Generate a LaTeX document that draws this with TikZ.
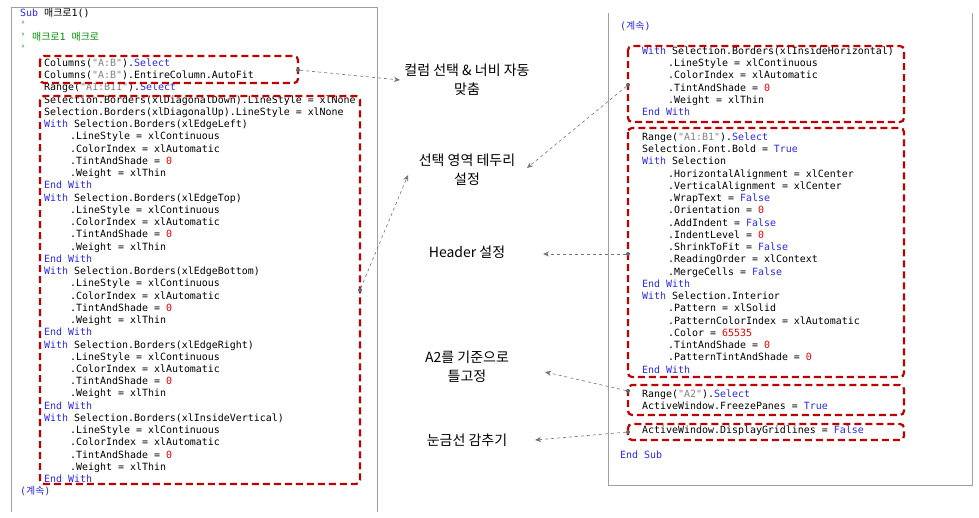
\documentclass[tikz,border=0pt]{standalone}
\usepackage{fontspec}
\setmonofont{DejaVu Sans Mono}
\newfontfamily\kr{Noto Sans CJK KR}
\usetikzlibrary{arrows.meta}
\definecolor{kwc}{RGB}{40,40,240}
\definecolor{stc}{RGB}{130,130,130}
\definecolor{nmc}{RGB}{240,0,0}
\definecolor{cmc}{RGB}{0,140,0}
\definecolor{boxc}{RGB}{192,0,0}
\newcommand{\kw}[1]{\textcolor{kwc}{#1}}
\newcommand{\sr}[1]{\textcolor{stc}{#1}}
\newcommand{\nm}[1]{\textcolor{nmc}{#1}}
\newcounter{lnc}
\newcommand{\CL}[3]{\stepcounter{lnc}\node[codeln] (l\thelnc) at (#1,#2) {#3};}
\begin{document}
\begin{tikzpicture}[x=1pt,y=-1pt,
  codeln/.style={anchor=west,inner sep=0pt,text height=7pt,text depth=2pt,font=\ttfamily\fontsize{9.95}{10}\selectfont},
  frame/.style={draw=black!38,line width=0.8pt},
  redbox/.style={draw=boxc,line width=2.2pt,dash pattern=on 7pt off 4pt,rounded corners=4pt},
  lbl/.style={font=\kr\fontsize{14}{19}\selectfont,align=center},
  conn/.style={draw=black!55,dashed,line width=0.6pt,-{Stealth[length=6pt,width=5pt]}},
  dotc/.style={circle,fill=black!60,inner sep=0pt,minimum size=4pt}]
\useasboundingbox (0,0) rectangle (979,517);
\fill[white] (0,0) rectangle (979,517);
% frames
\draw[frame] (11,7) -- (377,7) -- (377,512);
\draw[frame] (11,7) -- (11,512);
\draw[frame] (608,13) -- (608,485) -- (972,485) -- (972,13);
% left code
\def\a{20}\def\b{44}\def\c{70}
\CL{\a}{14}{\kw{Sub} {\kr 매크로}1()}
\CL{\a}{26}{\textcolor{cmc}{'}}
\CL{\a}{38}{\textcolor{cmc}{' {\kr 매크로}1 {\kr 매크로}}}
\CL{\a}{50}{\textcolor{cmc}{'}}
\def\y{64}
\newcommand{\nl}[2]{\CL{#1}{\y}{#2}\pgfmathsetmacro\y{\y+12.24}\global\let\y\y}
\nl{\b}{Columns(\sr{"A:B"}).\kw{Select}}
\nl{\b}{Columns(\sr{"A:B"}).EntireColumn.AutoFit}
\nl{\b}{Range(\sr{"A1:B11"}).\kw{Select}}
\nl{\b}{Selection.Borders(xlDiagonalDown).LineStyle = xlNone}
\nl{\b}{Selection.Borders(xlDiagonalUp).LineStyle = xlNone}
\foreach \e in {xlEdgeLeft,xlEdgeTop,xlEdgeBottom,xlEdgeRight,xlInsideVertical}{%
\nl{\b}{\kw{With} Selection.Borders(\e)}
\nl{\c}{.LineStyle = xlContinuous}
\nl{\c}{.ColorIndex = xlAutomatic}
\nl{\c}{.TintAndShade = \nm{0}}
\nl{\c}{.Weight = xlThin}
\nl{\b}{\kw{End With}}
}
\CL{\a}{492}{\kw{({\kr 계속})}}
% right code
\def\a{620}\def\b{642}\def\c{668}
\CL{\a}{27}{\kw{({\kr 계속})}}
\def\y{52}
\nl{\b}{\kw{With} Selection.Borders(xlInsideHorizontal)}
\nl{\c}{.LineStyle = xlContinuous}
\nl{\c}{.ColorIndex = xlAutomatic}
\nl{\c}{.TintAndShade = \nm{0}}
\nl{\c}{.Weight = xlThin}
\nl{\b}{\kw{End With}}
\def\y{138}
\nl{\b}{Range(\sr{"A1:B1"}).\kw{Select}}
\nl{\b}{Selection.Font.Bold = \kw{True}}
\nl{\b}{\kw{With} Selection}
\nl{\c}{.HorizontalAlignment = xlCenter}
\nl{\c}{.VerticalAlignment = xlCenter}
\nl{\c}{.WrapText = \kw{False}}
\nl{\c}{.Orientation = \nm{0}}
\nl{\c}{.AddIndent = \kw{False}}
\nl{\c}{.IndentLevel = \nm{0}}
\nl{\c}{.ShrinkToFit = \kw{False}}
\nl{\c}{.ReadingOrder = xlContext}
\nl{\c}{.MergeCells = \kw{False}}
\nl{\b}{\kw{End With}}
\nl{\b}{\kw{With} Selection.Interior}
\nl{\c}{.Pattern = xlSolid}
\nl{\c}{.PatternColorIndex = xlAutomatic}
\nl{\c}{.Color = \nm{65535}}
\nl{\c}{.TintAndShade = \nm{0}}
\nl{\c}{.PatternTintAndShade = \nm{0}}
\nl{\b}{\kw{End With}}
\CL{\b}{395}{Range(\sr{"A2"}).\kw{Select}}
\CL{\b}{407}{ActiveWindow.FreezePanes = \kw{True}}
\CL{\b}{431}{ActiveWindow.DisplayGridlines = \kw{False}}
\CL{\a}{456}{\kw{End Sub}}
% red boxes
\draw[redbox] (40,56) rectangle (298,83);
\draw[redbox] (40,96) rectangle (360,484);
\draw[redbox] (628,46) rectangle (904,122);
\draw[redbox] (628,128) rectangle (904,377);
\draw[redbox] (628,385) rectangle (904,415);
\draw[redbox] (628,424) rectangle (904,440);
% labels
\node[lbl] (t1) at (467,80) {컬럼 선택 \& 너비 자동\\맞춤};
\node[lbl] (t2) at (467,170) {선택 영역 테두리\\설정};
\node[lbl] (t3) at (467,252) {Header 설정};
\node[lbl] (t4) at (467,367) {A2를 기준으로\\틀고정};
\node[lbl] (t5) at (467,440) {눈금선 감추기};
% connector endpoints
\node[dotc] (d1) at (298,70) {};
\node[dotc] (d2) at (360,290) {};
\node[dotc] (d3) at (628,85) {};
\node[dotc] (d4) at (628,254) {};
\node[dotc] (d5) at (628,391) {};
\node[dotc] (d6) at (628,432) {};
\coordinate (e1) at (400,80);
\coordinate (e2) at (408,175);
\coordinate (e3) at (527,168);
\coordinate (e4) at (543,254);
\coordinate (e5) at (545,372);
\coordinate (e6) at (535,440);
\draw[conn] (d1) -- (e1);
\draw[conn] (d2) -- (e2);
\draw[conn] (d3) -- (e3);
\draw[conn] (d4) -- (e4);
\draw[conn] (d5) -- (e5);
\draw[conn] (d6) -- (e6);
\end{tikzpicture}
\end{document}
